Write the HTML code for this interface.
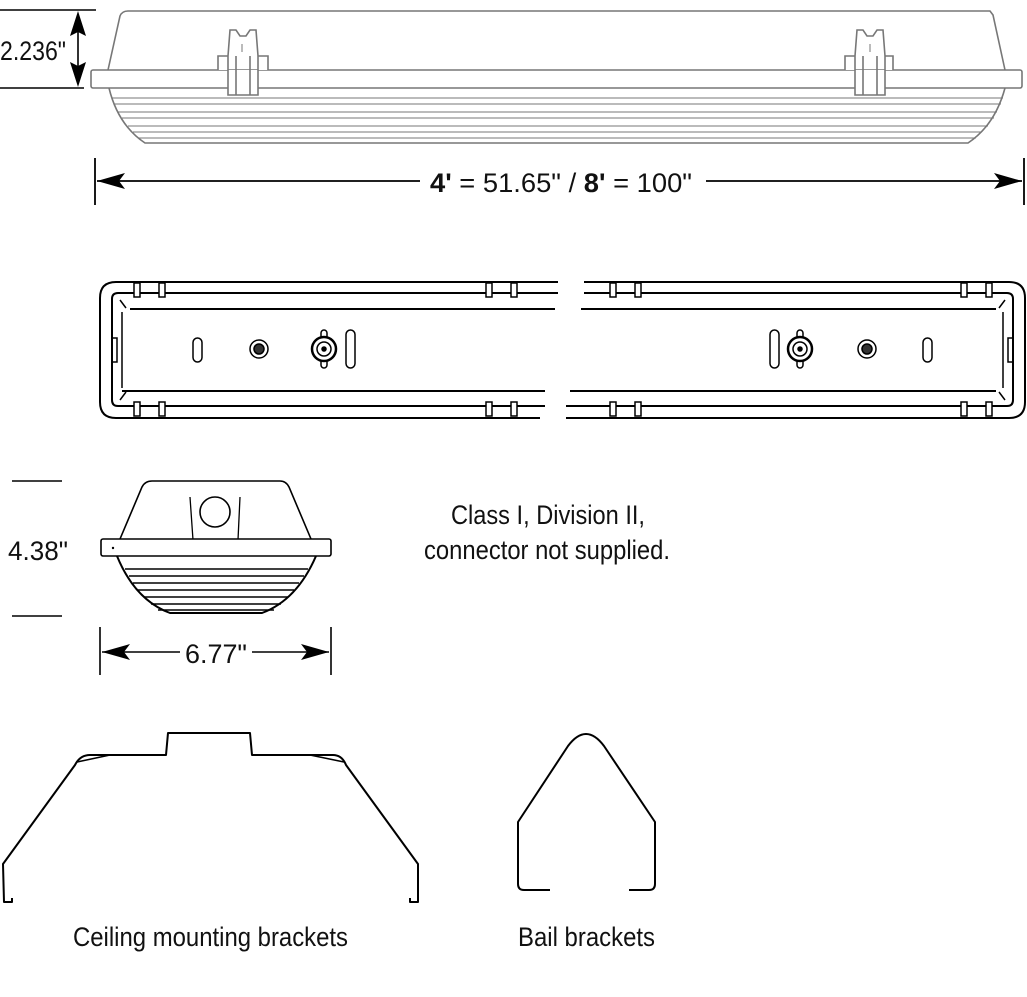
<!DOCTYPE html>
<html><head><meta charset="utf-8"><style>
html,body{margin:0;padding:0;background:#fff;}
svg{display:block;}
text{font-family:"Liberation Sans",sans-serif;fill:#111;}
</style></head><body>
<svg width="1027" height="997" viewBox="0 0 1027 997" xmlns="http://www.w3.org/2000/svg">
<defs>
<marker id="ah" viewBox="0 0 28 16" refX="28" refY="8" markerWidth="28" markerHeight="16" markerUnits="userSpaceOnUse" orient="auto-start-reverse"><path d="M0,0 L28,8 L0,16 L6,8 z" fill="#000"/></marker>
</defs>

<!-- TOP FIXTURE -->
<g fill="none" stroke="#777" stroke-width="1.6">
<path d="M108,70 L120,16 Q122,11 128,11 L990,11 L993,15 L1005,70"/>
<rect x="91" y="70" width="931" height="18" rx="2"/>
<path d="M109,88 Q118,125 145,143 L968,143 Q995,125 1005,88"/>
<path d="M112,98 L1003,98 M114,104 L1001,104 M118,112 L997,112 M122,118 L994,118 M128,126 L988,126 M133,132 L982,132 M138,138 L976,138" stroke-width="1.1"/>
<path d="M218,70 L218,56 L228,56 L228,95 L258,95 L258,56 L268,56 L268,70" fill="#fff"/>
<path d="M228,56 L230,30 L236,30 L240,36 L246,36 L250,30 L256,30 L258,56" fill="#fff"/>
<path d="M236,56 L236,95 M250,56 L250,95"/>
<path d="M242,44 L242,52" stroke-width="1"/>
<path d="M845,70 L845,56 L855,56 L855,95 L885,95 L885,56 L893,56 L893,70" fill="#fff"/>
<path d="M855,56 L857,30 L863,30 L867,36 L873,36 L877,30 L883,30 L885,56" fill="#fff"/>
<path d="M863,56 L863,95 M877,56 L877,95"/>
<path d="M870,44 L870,52" stroke-width="1"/>
</g>
<!-- 2.236 dimension -->
<g stroke="#000" stroke-width="1.6" fill="none">
<line x1="0" y1="10" x2="96" y2="10"/>
<line x1="0" y1="88" x2="84" y2="88"/>
<line x1="78" y1="32" x2="78" y2="66"/>
</g>
<path d="M78,11 L70,36 L78,32 L86,36 z M78,87 L70,62 L78,66 L86,62 z" fill="#000"/>
<text x="0" y="60" font-size="27" textLength="66" lengthAdjust="spacingAndGlyphs">2.236"</text>

<!-- length dimension -->
<g stroke="#000" stroke-width="1.8" fill="none">
<line x1="95" y1="158" x2="95" y2="205"/>
<line x1="1024" y1="158" x2="1024" y2="205"/>
<line x1="97" y1="181" x2="420" y2="181" marker-start="url(#ah)"/>
<line x1="706" y1="181" x2="1022" y2="181" marker-end="url(#ah)"/>
</g>
<text x="430" y="192" font-size="27" textLength="262" lengthAdjust="spacingAndGlyphs"><tspan font-weight="bold">4'</tspan> = 51.65" / <tspan font-weight="bold">8'</tspan> = 100"</text>

<!-- PLAN VIEW -->
<g fill="none" stroke="#000" stroke-width="2">
<path d="M558,282 L116,282 Q100,282 100,298 L100,402 Q100,418 116,418 L540,418"/>
<path d="M558,293 L118,293 Q112,293 112,299 L112,400 Q112,406 118,406 L545,406"/>
<line x1="130" y1="309" x2="555" y2="309"/>
<line x1="122" y1="391" x2="545" y2="391"/>
<path d="M120,300 L126,308 M120,400 L126,392 M122,312 L122,388" stroke-width="1.5"/>
<path d="M112,338 L117,338 L117,362 L112,362" stroke-width="1.5"/>
<path d="M584,282 L1009,282 Q1025,282 1025,298 L1025,402 Q1025,418 1009,418 L566,418"/>
<path d="M584,293 L1007,293 Q1013,293 1013,299 L1013,400 Q1013,406 1007,406 L566,406"/>
<line x1="581" y1="309" x2="996" y2="309"/>
<line x1="570" y1="391" x2="996" y2="391"/>
<path d="M1005,300 L999,308 M1005,400 L999,392 M1003,312 L1003,388" stroke-width="1.5"/>
<path d="M1013,338 L1008,338 L1008,362 L1013,362" stroke-width="1.5"/>
</g>
<g fill="#fff" stroke="#000" stroke-width="1.5">
<rect x="134" y="283" width="6" height="14"/><rect x="159" y="283" width="6" height="14"/>
<rect x="486" y="283" width="6" height="14"/><rect x="511" y="283" width="6" height="14"/>
<rect x="134" y="402" width="6" height="14"/><rect x="159" y="402" width="6" height="14"/>
<rect x="486" y="402" width="6" height="14"/><rect x="511" y="402" width="6" height="14"/>
<rect x="610" y="283" width="6" height="14"/><rect x="635" y="283" width="6" height="14"/>
<rect x="961" y="283" width="6" height="14"/><rect x="986" y="283" width="6" height="14"/>
<rect x="610" y="402" width="6" height="14"/><rect x="635" y="402" width="6" height="14"/>
<rect x="961" y="402" width="6" height="14"/><rect x="986" y="402" width="6" height="14"/>
<rect x="193" y="338" width="9" height="24" rx="4.5"/>
<circle cx="259" cy="349" r="9"/><circle cx="259" cy="349" r="5" fill="#333"/>
<rect x="321" y="330" width="6" height="38" rx="3"/>
<circle cx="324" cy="349" r="12" stroke-width="2.5"/><circle cx="324" cy="349" r="7"/><circle cx="324" cy="349" r="2" fill="#000"/>
<rect x="346" y="330" width="9" height="38" rx="4.5"/>
<rect x="770" y="330" width="9" height="38" rx="4.5"/>
<rect x="797" y="330" width="6" height="38" rx="3"/>
<circle cx="800" cy="349" r="12" stroke-width="2.5"/><circle cx="800" cy="349" r="7"/><circle cx="800" cy="349" r="2" fill="#000"/>
<circle cx="867" cy="349" r="9"/><circle cx="867" cy="349" r="5" fill="#333"/>
<rect x="923" y="338" width="9" height="24" rx="4.5"/>
</g>

<!-- END VIEW -->
<g stroke="#000" stroke-width="1.6" fill="none">
<line x1="12" y1="481" x2="62" y2="481"/>
<line x1="12" y1="616" x2="62" y2="616"/>
<path d="M120,539 L142,487 Q145,481 152,481 L280,481 Q286,481 289,487 L311,539"/>
<circle cx="215" cy="512" r="15"/>
<path d="M190,497 L193,540 M240,497 L238,540" stroke-width="1.3"/>
<rect x="101" y="539" width="230" height="17" rx="2" fill="#fff"/>
<path d="M117,556 Q135,600 170,613 L262,613 Q297,600 316,556" stroke-width="2"/>
<path d="M125,569 L308,569 M129,576 L304,576 M133,583 L299,583 M138,590 L294,590 M144,597 L288,597 M151,604 L281,604 M158,610 L274,610" stroke-width="1.4"/>
<line x1="100" y1="627" x2="100" y2="675"/>
<line x1="331" y1="627" x2="331" y2="675"/>
<line x1="102" y1="652" x2="180" y2="652" marker-start="url(#ah)"/>
<line x1="252" y1="652" x2="329" y2="652" marker-end="url(#ah)"/>
</g>
<circle cx="113" cy="548" r="1.2" fill="#000"/>
<text x="8" y="560" font-size="27" textLength="60" lengthAdjust="spacingAndGlyphs">4.38"</text>
<text x="185" y="663" font-size="27" textLength="62" lengthAdjust="spacingAndGlyphs">6.77"</text>

<text x="451" y="524" font-size="27" textLength="194" lengthAdjust="spacingAndGlyphs">Class I, Division II,</text>
<text x="424" y="559" font-size="27" textLength="246" lengthAdjust="spacingAndGlyphs">connector not supplied.</text>

<!-- BRACKETS -->
<g fill="none" stroke="#000" stroke-width="2" stroke-linejoin="round">
<path d="M12,898 L12,902 L4,902 L3,864 L75,765 Q80,755 90,755 L166,755 L168,733 L250,733 L252,755 L333,755 Q342,755 346,765 L418,864 L418,902 L410,902 L410,898"/>
<path d="M77,762 L110,755 M344,762 L310,755" stroke-width="1.6"/>
<path d="M550,890 L524,890 Q518,890 518,884 L518,822 L568,746 Q586,722 604,746 L655,822 L655,884 Q655,890 649,890 L629,890"/>
</g>
<text x="73" y="946" font-size="27" textLength="275" lengthAdjust="spacingAndGlyphs">Ceiling mounting brackets</text>
<text x="518" y="946" font-size="27" textLength="137" lengthAdjust="spacingAndGlyphs">Bail brackets</text>
</svg>
</body></html>
